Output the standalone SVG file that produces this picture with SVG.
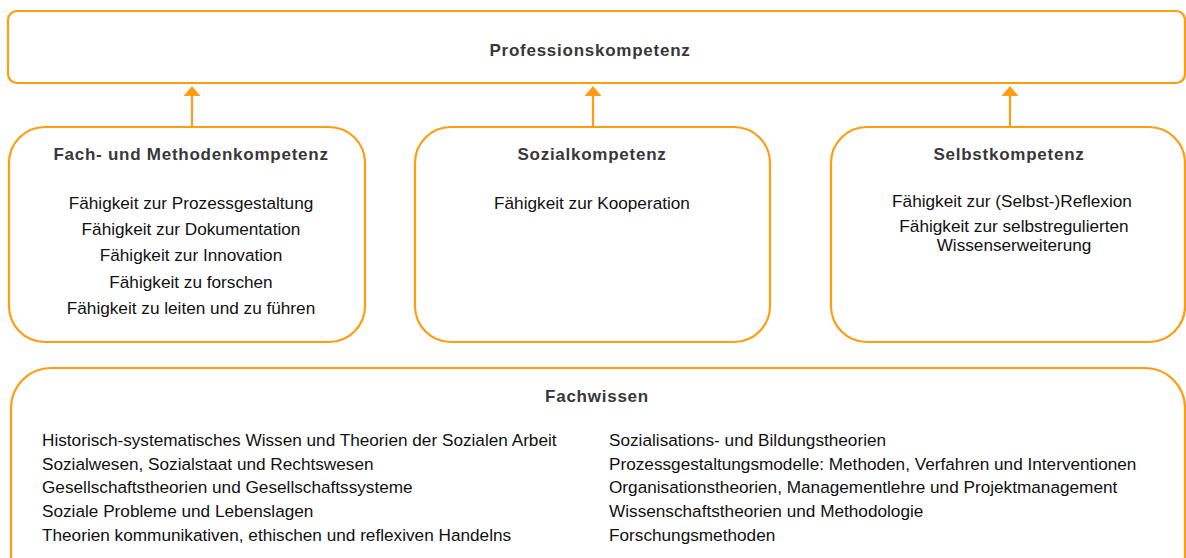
<svg xmlns="http://www.w3.org/2000/svg" width="1186" height="558" viewBox="0 0 1186 558">
<style>
.box{fill:#fff;stroke:#FF9C10;stroke-width:2.2}
.conn{stroke:#FF9C10;stroke-width:2.2;fill:none}
.head{fill:#FF9C10}
.t{font-family:"Liberation Sans",Arial,sans-serif;font-size:17.2px;fill:#111}
.h{font-family:"Liberation Sans",Arial,sans-serif;font-size:17px;font-weight:bold;fill:#383838;letter-spacing:0.75px}
.c{text-anchor:middle}
</style>
<rect width="1186" height="558" fill="#fff"/>
<g id="connectors">
<line class="conn" x1="192" y1="127" x2="192" y2="94"/>
<polygon class="head" points="183.5,96 192,86 200.5,96"/>
<line class="conn" x1="593" y1="127" x2="593" y2="94"/>
<polygon class="head" points="584.5,96 593,86 601.5,96"/>
<line class="conn" x1="1010" y1="127" x2="1010" y2="94"/>
<polygon class="head" points="1001.5,96 1010,86 1018.5,96"/>
</g>
<g id="profession">
<rect class="box" x="8" y="11" width="1177" height="72" rx="9"/>
<text class="h c" x="590" y="56">Professionskompetenz</text>
</g>
<g id="fach">
<rect class="box" x="9" y="127" width="356" height="215" rx="36"/>
<text class="h c" x="191" y="160">Fach- und Methodenkompetenz</text>
<text class="t c" x="191" y="209">Fähigkeit zur Prozessgestaltung</text>
<text class="t c" x="191" y="235">Fähigkeit zur Dokumentation</text>
<text class="t c" x="191" y="261">Fähigkeit zur Innovation</text>
<text class="t c" x="191" y="288">Fähigkeit zu forschen</text>
<text class="t c" x="191" y="314">Fähigkeit zu leiten und zu führen</text>
</g>
<g id="sozial">
<rect class="box" x="415" y="127" width="355" height="215" rx="36"/>
<text class="h c" x="592" y="160">Sozialkompetenz</text>
<text class="t c" x="592" y="209">Fähigkeit zur Kooperation</text>
</g>
<g id="selbst">
<rect class="box" x="831" y="127" width="354" height="215" rx="36"/>
<text class="h c" x="1009" y="160">Selbstkompetenz</text>
<text class="t c" x="1012" y="207">Fähigkeit zur (Selbst-)Reflexion</text>
<text class="t c" x="1014" y="232">Fähigkeit zur selbstregulierten</text>
<text class="t c" x="1014" y="251">Wissenserweiterung</text>
</g>
<g id="fachwissen">
<rect class="box" x="11" y="368" width="1174" height="230" rx="40"/>
<text class="h c" x="597" y="402">Fachwissen</text>
<text class="t" x="42" y="446">Historisch-systematisches Wissen und Theorien der Sozialen Arbeit</text>
<text class="t" x="42" y="470">Sozialwesen,  Sozialstaat und Rechtswesen</text>
<text class="t" x="42" y="493">Gesellschaftstheorien und Gesellschaftssysteme</text>
<text class="t" x="42" y="517">Soziale Probleme und Lebenslagen</text>
<text class="t" x="42" y="541">Theorien kommunikativen, ethischen und reflexiven Handelns</text>
<text class="t" x="609" y="446">Sozialisations- und Bildungstheorien</text>
<text class="t" x="609" y="470">Prozessgestaltungsmodelle: Methoden, Verfahren und Interventionen</text>
<text class="t" x="609" y="493">Organisationstheorien, Managementlehre und Projektmanagement</text>
<text class="t" x="609" y="517">Wissenschaftstheorien und Methodologie</text>
<text class="t" x="609" y="541">Forschungsmethoden</text>
</g>
</svg>
